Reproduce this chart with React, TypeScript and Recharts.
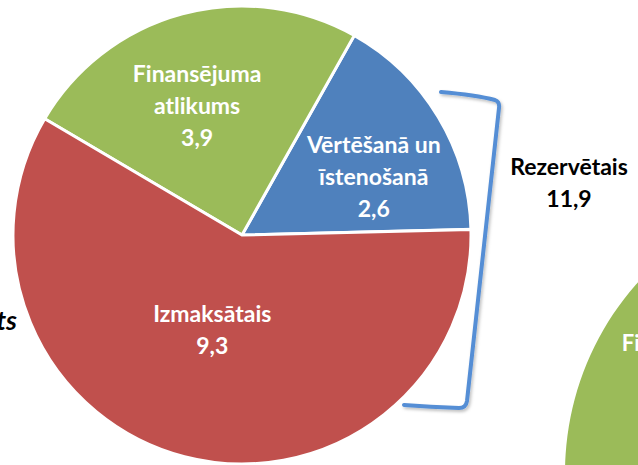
import { PieChart, Pie, Cell, Customized } from "recharts";

// main pie (mln EUR)
const categories = ["Vērtēšanā un īstenošanā", "Finansējuma atlikums", "Izmaksātais"];
const values = [2.6, 3.9, 9.3];
const labelLines = [["Vērtēšanā un", "īstenošanā"], ["Finansējuma", "atlikums"], ["Izmaksātais"]];
const colors = ["#4F81BD", "#9BBB59", "#C0504D"];

// slices grouped by the bracket
const reservedParts = ["Vērtēšanā un īstenošanā", "Izmaksātais"];
const reservedTitle = "Rezervētais";

// second pie, mostly off-canvas
const secondCategories = ["Finansējuma atlikums"];
const secondValues = [3.9];
const secondLabelLines = [["Finansējuma", "atlikums"]];
const secondColors = ["#9BBB59"];

const leftTitle = "Piešķirts";

const mainData = categories.map((name, i) => ({ name, value: values[i], lines: labelLines[i] }));
const secondData = secondCategories.map((name, i) => ({
  name,
  value: secondValues[i],
  lines: secondLabelLines[i],
}));

const reservedTotal = mainData
  .filter((d) => reservedParts.includes(d.name))
  .reduce((s, d) => s + d.value, 0);

// label placement tweaks: radius fraction + angle shift from the slice middle
const LABEL_POS: Record<string, { r: number; da: number }> = {
  "Vērtēšanā un īstenošanā": { r: 0.63, da: -7 },
  "Finansējuma atlikums": { r: 0.6, da: 4 },
  Izmaksātais: { r: 0.43, da: -3 },
};

const RADIAN = Math.PI / 180;
const FONT = "Lato, 'Open Sans', sans-serif";
const fmt = (v: number) => v.toFixed(1).replace(".", ",");

function makeLabel(pos: (p: any) => { x: number; y: number }, fontSize: number, lineH: number) {
  return (p: any) => {
    const { x, y } = pos(p);
    const lines: string[] = [...p.payload.lines, fmt(p.value)];
    const top = y - ((lines.length - 1) / 2) * lineH;
    return (
      <g>
        {lines.map((t, i) => (
          <text
            key={i}
            x={x}
            y={top + i * lineH}
            textAnchor="middle"
            dominantBaseline="central"
            fill="#fff"
            fontFamily={FONT}
            fontWeight={700}
            fontSize={fontSize}
          >
            {t}
          </text>
        ))}
      </g>
    );
  };
}

const mainLabel = makeLabel((p) => {
  const cfg = LABEL_POS[p.name] ?? { r: 0.6, da: 0 };
  const a = (p.midAngle + cfg.da) * RADIAN;
  const r = p.outerRadius * cfg.r;
  return { x: p.cx + r * Math.cos(a), y: p.cy - r * Math.sin(a) };
}, 23, 32);

const secondLabel = makeLabel((p) => {
  const a = 149.6 * RADIAN;
  const r = p.outerRadius * 0.68;
  return { x: p.cx + r * Math.cos(a), y: p.cy - r * Math.sin(a) };
}, 22, 32);

function Extras() {
  return (
    <g>
      <defs>
        <filter id="brShadow" x="-20%" y="-20%" width="140%" height="140%">
          <feDropShadow dx="1.5" dy="2" stdDeviation="1.5" floodColor="#000" floodOpacity="0.25" />
        </filter>
      </defs>
      <path
        d="M441,92 Q476,95 495,100 Q500,102 499,108 L467,401 Q466,408 459,408 Q430,407 404,405"
        fill="none"
        stroke="#558ED5"
        strokeWidth={4}
        strokeLinecap="round"
        strokeLinejoin="round"
        filter="url(#brShadow)"
      />
      <text x={569} y={175} textAnchor="middle" fontFamily={FONT} fontWeight={700} fontSize={23} fill="#000">
        {reservedTitle}
      </text>
      <text x={569} y={207} textAnchor="middle" fontFamily={FONT} fontWeight={700} fontSize={23} fill="#000">
        {fmt(reservedTotal)}
      </text>
      <text
        x={17}
        y={330}
        textAnchor="end"
        fontFamily={FONT}
        fontWeight={700}
        fontStyle="italic"
        fontSize={27}
        fill="#000"
      >
        {leftTitle}
      </text>
    </g>
  );
}

export default function App() {
  return (
    <div style={{ position: "absolute", left: 0, top: 0, background: "#fff" }}>
      <PieChart width={638} height={465} margin={{ top: 0, right: 0, bottom: 0, left: 0 }}>
        <Pie
          data={secondData}
          dataKey="value"
          nameKey="name"
          cx={851}
          cy={473}
          outerRadius={286}
          startAngle={90}
          endAngle={450}
          stroke="none"
          label={secondLabel}
          labelLine={false}
          isAnimationActive={false}
        >
          {secondData.map((d, i) => (
            <Cell key={d.name} fill={secondColors[i]} />
          ))}
        </Pie>
        <Pie
          data={mainData}
          dataKey="value"
          nameKey="name"
          cx={242}
          cy={235}
          outerRadius={229}
          startAngle={1.4}
          endAngle={361.4}
          label={mainLabel}
          labelLine={false}
          isAnimationActive={false}
        >
          {mainData.map((d, i) => (
            <Cell key={d.name} fill={colors[i]} stroke="#fff" strokeWidth={3} />
          ))}
        </Pie>
        <Customized component={Extras} />
      </PieChart>
    </div>
  );
}
